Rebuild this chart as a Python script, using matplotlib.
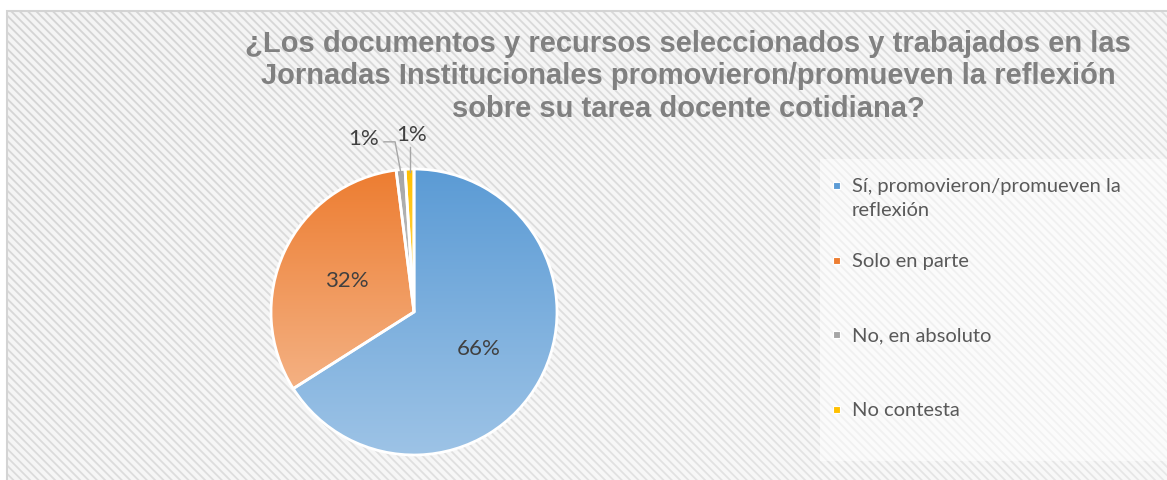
import matplotlib.pyplot as plt
import numpy as np
from matplotlib.colors import LinearSegmentedColormap
from matplotlib.patches import Rectangle

plt.rcParams['hatch.linewidth'] = 1.3

categorias = ['Sí, promovieron/promueven la\nreflexión', 'Solo en parte',
              'No, en absoluto', 'No contesta']
valores = [66, 32, 1, 1]
etiquetas = ['66%', '32%', '1%', '1%']
colores_top = ['#5B9BD5', '#ED7D31', '#A5A5A5', '#FFC000']
colores_bot = ['#9DC3E6', '#F4B183', '#C9C9C9', '#FFD966']

titulo = ('¿Los documentos y recursos seleccionados y trabajados en las\n'
          'Jornadas Institucionales promovieron/promueven la reflexión\n'
          'sobre su tarea docente cotidiana?')

W, H = 1167, 481
fig = plt.figure(figsize=(W / 100, H / 100), dpi=100)
fig.patch.set_facecolor('white')

# fondo rayado
bg = fig.add_axes([0, 0, 1, 1], zorder=-1)
bg.set_xlim(0, W)
bg.set_ylim(H, 0)
bg.axis('off')
bg.add_patch(Rectangle((7, 12), W, H, facecolor='#f4f4f4', edgecolor='#d4d4d4',
                       hatch='\\\\\\\\', linewidth=1.5))
yy, xx = np.mgrid[0:1:100j, 0:1:200j]
fade = np.zeros((100, 200, 4))
fade[..., :3] = 1
fade[..., 3] = np.clip(0.45 * (0.6 * xx + 0.4 * yy), 0, 0.5)
bg.imshow(fade, extent=(8, W, H, 13), aspect='auto', zorder=2)
bg.add_patch(Rectangle((820, 160), W - 820, 302, facecolor='white',
                       edgecolor='none', alpha=0.5, zorder=3))

# pastel
cx, cy, r = 414, 313, 143
ax = fig.add_axes([(cx - r) / W, (H - cy - r) / H, 2 * r / W, 2 * r / H])
ax.set_facecolor('none')
wedges, textos, autotextos = ax.pie(
    valores, startangle=90, counterclock=False, radius=1,
    autopct=lambda p: '', pctdistance=0.52,
    wedgeprops=dict(edgecolor='white', linewidth=2))
ax.set_xlim(-1, 1)
ax.set_ylim(-1, 1)
ax.axis('off')

for w, ct, cb in zip(wedges, colores_top, colores_bot):
    w.set_facecolor('none')
    bb = w.get_path().get_extents(w.get_patch_transform())
    cmap = LinearSegmentedColormap.from_list('g', [cb, ct])
    grad = np.linspace(0, 1, 256).reshape(-1, 1)
    im = ax.imshow(grad, cmap=cmap, origin='lower', aspect='auto',
                   extent=(bb.x0, bb.x1, bb.y0, bb.y1), zorder=0.5)
    im.set_clip_path(w)
    w.set_zorder(1)

for t, lab in zip(autotextos[:2], etiquetas[:2]):
    t.set_text(lab)
    t.set_fontsize(16)
    t.set_color('#404040')
    t.set_fontfamily('Lato')

# etiquetas de las porciones pequeñas con líneas guía
ang = np.cumsum([0] + valores[:-1]) + np.array(valores) / 2
ang = np.deg2rad(90 - ang / sum(valores) * 360)
pos = [(-0.35, 1.22), (-0.02, 1.245)]
for i, (px, py) in zip([2, 3], pos):
    ex, ey = 0.98 * np.cos(ang[i]), 0.98 * np.sin(ang[i])
    ax.text(px, py, etiquetas[i], fontsize=16, color='#404040', family='Lato',
            ha='center', va='center', clip_on=False)
    if i == 2:
        ax.plot([px + 0.14, ex - 0.04, ex], [py - 0.03, py - 0.03, ey],
                color='#a6a6a6', lw=1, clip_on=False)
    else:
        ax.plot([ex, ex], [py - 0.09, ey], color='#a6a6a6', lw=1, clip_on=False)

# titulo
fig.text(688 / W, 1 - 30 / H, titulo, ha='center', va='top', fontsize=21,
         fontweight='bold', color='#808080', family='Liberation Sans',
         linespacing=1.2)

# leyenda
ys = [186, 261, 335, 410]
for lab, c, yv in zip(categorias, colores_top, ys):
    bg.add_patch(Rectangle((833, yv - 3), 7, 7, facecolor=c, edgecolor='white',
                           lw=0.8, zorder=4))
    bg.text(852, yv - 8, lab, fontsize=14.5, color='#595959', family='Lato',
            va='top', zorder=4, linespacing=1.5)

fig.savefig('out.png', dpi=100)
